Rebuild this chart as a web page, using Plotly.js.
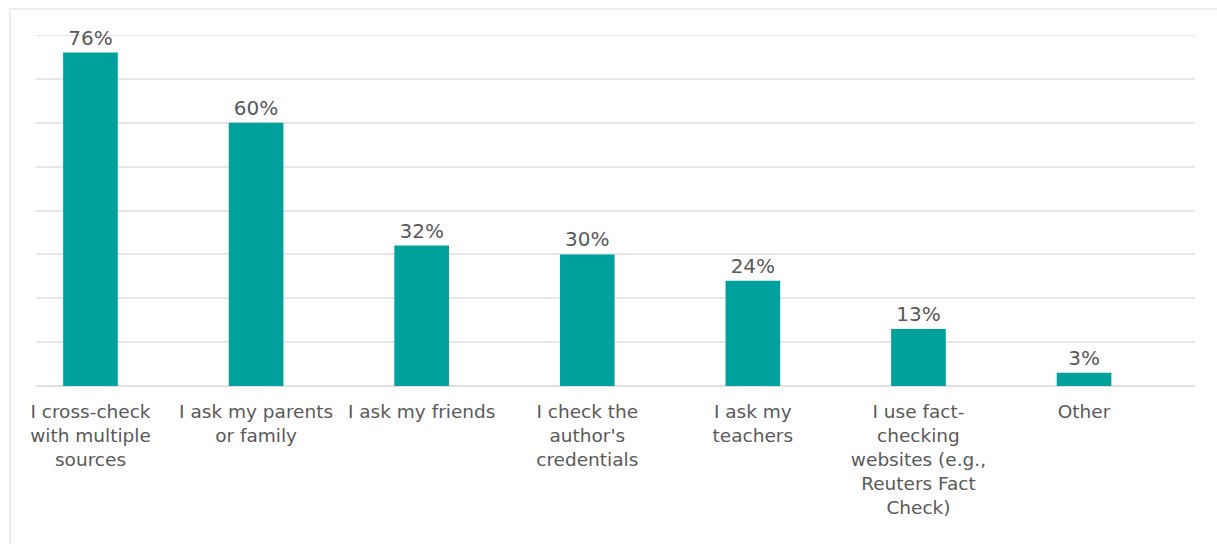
<!DOCTYPE html>
<html>
<head>
<meta charset="utf-8">
<script src="https://cdn.plot.ly/plotly-3.0.1.min.js"></script>
<style>
html,body{margin:0;padding:0;background:#fff;}
#chart{position:absolute;left:0;top:0;width:1217px;height:544px;}
#frame{position:absolute;left:9px;top:8px;width:1208px;height:536px;border-left:2px solid #ececec;border-top:2px solid #ececec;box-sizing:border-box;pointer-events:none;}
</style>
</head>
<body>
<div id="chart"></div>
<div id="frame"></div>
<script>
const categories = [
  "I cross-check<br>with multiple<br>sources",
  "I ask my parents<br>or family",
  "I ask my friends",
  "I check the<br>author's<br>credentials",
  "I ask my<br>teachers",
  "I use fact-<br>checking<br>websites (e.g.,<br>Reuters Fact<br>Check)",
  "Other"
];
const values = [76, 60, 32, 30, 24, 13, 3];
const valueLabels = ["76%", "60%", "32%", "30%", "24%", "13%", "3%"];
const yMax = 80;

const trace = {
  type: 'bar',
  x: categories,
  y: values,
  text: valueLabels,
  textposition: 'outside',
  cliponaxis: false,
  textfont: {family: 'DejaVu Sans, sans-serif', size: 20, color: '#595959'},
  marker: {color: '#00a19c'},
  width: 0.33,
  hoverinfo: 'none'
};

const layout = {
  width: 1217,
  height: 544,
  margin: {l: 36, r: 22, t: 35, b: 158},
  paper_bgcolor: 'rgba(0,0,0,0)',
  plot_bgcolor: 'rgba(0,0,0,0)',
  showlegend: false,
  font: {family: 'DejaVu Sans, sans-serif', size: 19, color: '#595959'},
  xaxis: {
    type: 'category',
    range: [-0.329, 6.67],
    showgrid: false,
    showline: false,
    ticks: '',
    tickangle: 0,
    tickfont: {family: 'DejaVu Sans, sans-serif', size: 18.5, color: '#595959'},
    ticklabelstandoff: 12,
    automargin: false,
    fixedrange: true
  },
  yaxis: {
    range: [0, yMax],
    dtick: 10,
    showticklabels: false,
    showgrid: true,
    gridcolor: '#e6e6e6',
    gridwidth: 2,
    zeroline: true,
    zerolinecolor: '#e0e0e0',
    zerolinewidth: 2,
    showline: false,
    fixedrange: true
  },
  shapes: [{
    type: 'line', xref: 'paper', yref: 'y',
    x0: 0, x1: 1, y0: yMax, y1: yMax,
    line: {color: '#e6e6e6', width: 2},
    layer: 'below'
  }]
};

Plotly.newPlot('chart', [trace], layout, {displayModeBar: false, staticPlot: true});
</script>
</body>
</html>
